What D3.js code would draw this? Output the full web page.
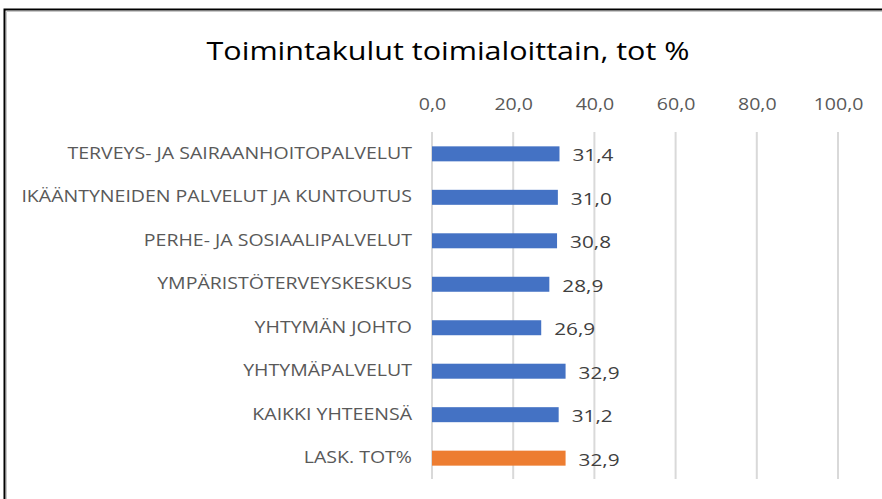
<!DOCTYPE html>
<html>
  <head>
    <meta charset="utf-8">
    <title>Toimintakulut toimialoittain</title>
    <style>
      body {
        margin: 0;
        padding: 0;
        background: #fff;
        font-family: 'Open Sans', sans-serif;
      }
    </style>
  </head>
  <body>
    <div id="chart"></div>

    <script src="https://cdnjs.cloudflare.com/ajax/libs/d3/7.8.5/d3.min.js"></script>
    <script>
      // Data
      const categories = [
        "TERVEYS- JA SAIRAANHOITOPALVELUT",
        "IKÄÄNTYNEIDEN PALVELUT JA KUNTOUTUS",
        "PERHE- JA SOSIAALIPALVELUT",
        "YMPÄRISTÖTERVEYSKESKUS",
        "YHTYMÄN JOHTO",
        "YHTYMÄPALVELUT",
        "KAIKKI YHTEENSÄ",
        "LASK. TOT%"
      ];
      const values = [31.4, 31.0, 30.8, 28.9, 26.9, 32.9, 31.2, 32.9];
      const tickValues = [0, 20, 40, 60, 80, 100];

      const width = 882, height = 499;
      const stretch = 1.22; // the original text is wider than Open Sans
      const fmt = v => v.toFixed(1).replace('.', ',');

      // widen a text selection horizontally
      function widen(sel) {
        sel.each(function() {
          const w = this.getComputedTextLength();
          d3.select(this)
            .attr('textLength', w * stretch)
            .attr('lengthAdjust', 'spacingAndGlyphs');
        });
      }

      const svg = d3.select('#chart')
                    .append('svg')
                    .attr('width', width)
                    .attr('height', height);

      // Frame
      svg.append('path')
          .attr('d', 'M4.5,499 V9.5 H882')
          .attr('fill', 'none')
          .attr('stroke', '#000')
          .attr('stroke-width', 2);
      svg.append('path')
          .attr('d', 'M6.5,499 V11.5 H882')
          .attr('fill', 'none')
          .attr('stroke', '#c8c8c8')
          .attr('stroke-width', 1);

      // Title
      svg.append('text')
          .attr('x', 448)
          .attr('y', 60)
          .attr('text-anchor', 'middle')
          .attr('font-size', 25)
          .attr('fill', '#000')
          .text('Toimintakulut toimialoittain, tot %')
          .call(widen);

      // Scales
      const xScale = d3.scaleLinear()
                        .domain([0, 100])
                        .range([432, 838]);

      const yScale = d3.scaleBand()
                        .domain(categories)
                        .range([132, 480])
                        .paddingInner(0.655)
                        .paddingOuter(0.33);

      // Top axis
      const xAxis = svg.append('g')
            .attr('transform', 'translate(0,132)')
            .call(d3.axisTop(xScale)
                    .tickValues(tickValues)
                    .tickSize(0)
                    .tickPadding(22)
                    .tickFormat(fmt));
      xAxis.select('.domain').remove();
      xAxis.selectAll('text')
            .attr('font-family', "'Open Sans', sans-serif")
            .attr('font-size', 16)
            .attr('fill', '#595959')
            .call(widen);

      // Gridlines
      svg.append('g')
          .selectAll('line')
          .data(tickValues)
          .enter()
          .append('line')
          .attr('x1', d => xScale(d))
          .attr('x2', d => xScale(d))
          .attr('y1', 132)
          .attr('y2', 479)
          .attr('stroke', '#d9d9d9')
          .attr('stroke-width', 2);

      // Category axis
      const yAxis = svg.append('g')
            .attr('transform', 'translate(432,0)')
            .call(d3.axisLeft(yScale).tickSize(0).tickPadding(20));
      yAxis.select('.domain').remove();
      yAxis.selectAll('text')
            .attr('font-family', "'Open Sans', sans-serif")
            .attr('font-size', 16)
            .attr('fill', '#595959')
            .call(widen);

      // Bars
      svg.selectAll('.bar')
          .data(values)
          .enter()
          .append('rect')
          .attr('class', 'bar')
          .attr('x', xScale(0))
          .attr('y', (d, i) => yScale(categories[i]))
          .attr('width', d => xScale(d) - xScale(0))
          .attr('height', yScale.bandwidth())
          .attr('fill', (d, i) => i === categories.length - 1 ? '#ED7D31' : '#4472C4');

      // Value labels
      svg.selectAll('.label')
          .data(values)
          .enter()
          .append('text')
          .attr('class', 'label')
          .attr('x', d => xScale(d) + 13)
          .attr('y', (d, i) => yScale(categories[i]) + yScale.bandwidth() / 2)
          .attr('dy', '0.45em')
          .attr('font-size', 17)
          .attr('fill', '#404040')
          .text(fmt)
          .call(widen);
    </script>
  </body>
</html>
